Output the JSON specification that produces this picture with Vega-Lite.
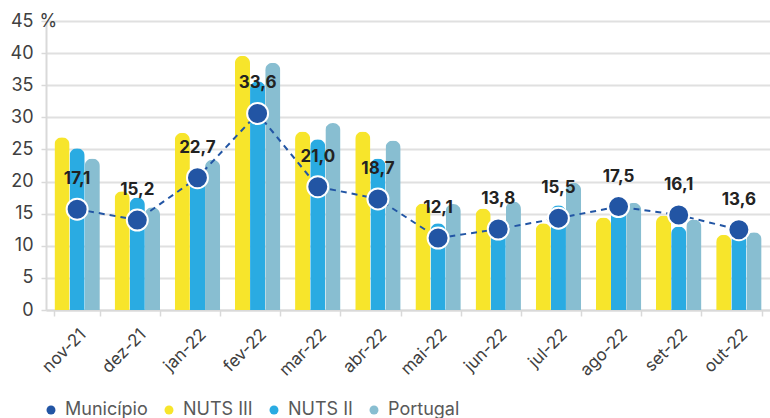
{
  "$schema": "https://vega.github.io/schema/vega-lite/v6.json",
  "width": 724,
  "height": 289,
  "autosize": {"type": "none"},
  "padding": {"left": 46, "top": 21, "right": 0, "bottom": 108},
  "background": "white",
  "config": {"view": {"stroke": null}, "font": "Inter"},
  "data": {"values": [
    {"month": "nov-21", "series": "NUTS III", "value": 26.9},
    {"month": "nov-21", "series": "NUTS II", "value": 25.2},
    {"month": "nov-21", "series": "Portugal", "value": 23.6},
    {"month": "nov-21", "series": "Município", "value": 15.7, "label": "17,1"},
    {"month": "dez-21", "series": "NUTS III", "value": 18.5},
    {"month": "dez-21", "series": "NUTS II", "value": 17.5},
    {"month": "dez-21", "series": "Portugal", "value": 16.0},
    {"month": "dez-21", "series": "Município", "value": 14.0, "label": "15,2"},
    {"month": "jan-22", "series": "NUTS III", "value": 27.6},
    {"month": "jan-22", "series": "NUTS II", "value": 20.7},
    {"month": "jan-22", "series": "Portugal", "value": 23.4},
    {"month": "jan-22", "series": "Município", "value": 20.6, "label": "22,7"},
    {"month": "fev-22", "series": "NUTS III", "value": 39.6},
    {"month": "fev-22", "series": "NUTS II", "value": 35.6},
    {"month": "fev-22", "series": "Portugal", "value": 38.5},
    {"month": "fev-22", "series": "Município", "value": 30.6, "label": "33,6"},
    {"month": "mar-22", "series": "NUTS III", "value": 27.8},
    {"month": "mar-22", "series": "NUTS II", "value": 26.6},
    {"month": "mar-22", "series": "Portugal", "value": 29.1},
    {"month": "mar-22", "series": "Município", "value": 19.2, "label": "21,0"},
    {"month": "abr-22", "series": "NUTS III", "value": 27.8},
    {"month": "abr-22", "series": "NUTS II", "value": 23.6},
    {"month": "abr-22", "series": "Portugal", "value": 26.4},
    {"month": "abr-22", "series": "Município", "value": 17.3, "label": "18,7"},
    {"month": "mai-22", "series": "NUTS III", "value": 16.6},
    {"month": "mai-22", "series": "NUTS II", "value": 13.5},
    {"month": "mai-22", "series": "Portugal", "value": 16.5},
    {"month": "mai-22", "series": "Município", "value": 11.2, "label": "12,1"},
    {"month": "jun-22", "series": "NUTS III", "value": 15.8},
    {"month": "jun-22", "series": "NUTS II", "value": 14.3},
    {"month": "jun-22", "series": "Portugal", "value": 16.9},
    {"month": "jun-22", "series": "Município", "value": 12.6, "label": "13,8"},
    {"month": "jul-22", "series": "NUTS III", "value": 13.5},
    {"month": "jul-22", "series": "NUTS II", "value": 16.3},
    {"month": "jul-22", "series": "Portugal", "value": 19.8},
    {"month": "jul-22", "series": "Município", "value": 14.3, "label": "15,5"},
    {"month": "ago-22", "series": "NUTS III", "value": 14.4},
    {"month": "ago-22", "series": "NUTS II", "value": 15.7},
    {"month": "ago-22", "series": "Portugal", "value": 16.7},
    {"month": "ago-22", "series": "Município", "value": 16.1, "label": "17,5"},
    {"month": "set-22", "series": "NUTS III", "value": 14.7},
    {"month": "set-22", "series": "NUTS II", "value": 13.0},
    {"month": "set-22", "series": "Portugal", "value": 14.1},
    {"month": "set-22", "series": "Município", "value": 14.8, "label": "16,1"},
    {"month": "out-22", "series": "NUTS III", "value": 11.7},
    {"month": "out-22", "series": "NUTS II", "value": 11.9},
    {"month": "out-22", "series": "Portugal", "value": 12.1},
    {"month": "out-22", "series": "Município", "value": 12.5, "label": "13,6"}
  ]},
  "encoding": {
    "x": {
      "field": "month",
      "type": "nominal",
      "sort": ["nov-21", "dez-21", "jan-22", "fev-22", "mar-22", "abr-22", "mai-22", "jun-22", "jul-22", "ago-22", "set-22", "out-22"],
      "scale": {"paddingInner": 0.245, "paddingOuter": 0.14},
      "axis": {
        "title": null,
        "labelAngle": -45,
        "labelFontSize": 17,
        "labelColor": "#404040",
        "labelPadding": 10,
        "domainColor": "#d9d9d9",
        "domainWidth": 2,
        "tickColor": "#d9d9d9",
        "tickWidth": 1.5,
        "tickBand": "extent",
        "tickSize": 6,
        "grid": false
      }
    },
    "y": {
      "field": "value",
      "type": "quantitative",
      "scale": {"domain": [0, 45], "nice": false},
      "axis": {
        "values": [0, 5, 10, 15, 20, 25, 30, 35, 40, 45],
        "title": "%",
        "titleAngle": 0,
        "titleX": -7,
        "titleY": 0,
        "titleAlign": "left",
        "titleBaseline": "middle",
        "titleFontSize": 18,
        "titleFontWeight": "normal",
        "titleColor": "#404040",
        "labelFontSize": 18,
        "labelColor": "#404040",
        "labelPadding": 8,
        "domainColor": "#d9d9d9",
        "domainWidth": 2,
        "tickColor": "#d9d9d9",
        "tickSize": 5,
        "tickWidth": 1.5,
        "gridColor": "#e0e0e0",
        "gridWidth": 2
      }
    }
  },
  "layer": [
    {
      "transform": [{"filter": "datum.series != 'Município'"}],
      "mark": {"type": "bar", "cornerRadiusEnd": 7.5},
      "encoding": {
        "xOffset": {"field": "series", "type": "nominal", "sort": ["NUTS III", "NUTS II", "Portugal"], "scale": {"paddingInner": 0, "paddingOuter": 0}},
        "color": {
          "field": "series",
          "type": "nominal",
          "scale": {
            "domain": ["Município", "NUTS III", "NUTS II", "Portugal"],
            "range": ["#2255a4", "#f7e52b", "#2aabe2", "#88bed1"]
          },
          "legend": {
            "orient": "none",
            "legendX": -4,
            "legendY": 380,
            "direction": "horizontal",
            "title": null,
            "symbolType": "circle",
            "symbolSize": 80,
            "symbolStrokeWidth": 0,
            "labelFontSize": 18,
            "labelColor": "#595959",
            "labelOffset": 5,
            "columnPadding": 12
          }
        }
      }
    },
    {
      "transform": [{"filter": "datum.series == 'Município'"}],
      "mark": {"type": "line", "strokeDash": [6, 5], "strokeWidth": 2, "color": "#2255a4"},
      "encoding": {}
    },
    {
      "transform": [{"filter": "datum.series == 'Município'"}],
      "mark": {"type": "point", "filled": true, "size": 440, "stroke": "white", "strokeWidth": 2, "opacity": 1},
      "encoding": {
        "color": {"field": "series", "type": "nominal"}
      }
    },
    {
      "transform": [{"filter": "datum.series == 'Município'"}],
      "mark": {"type": "text", "dy": -30, "fontSize": 17, "fontWeight": "bold", "color": "#222222"},
      "encoding": {
        "text": {"field": "label"}
      }
    }
  ]
}
